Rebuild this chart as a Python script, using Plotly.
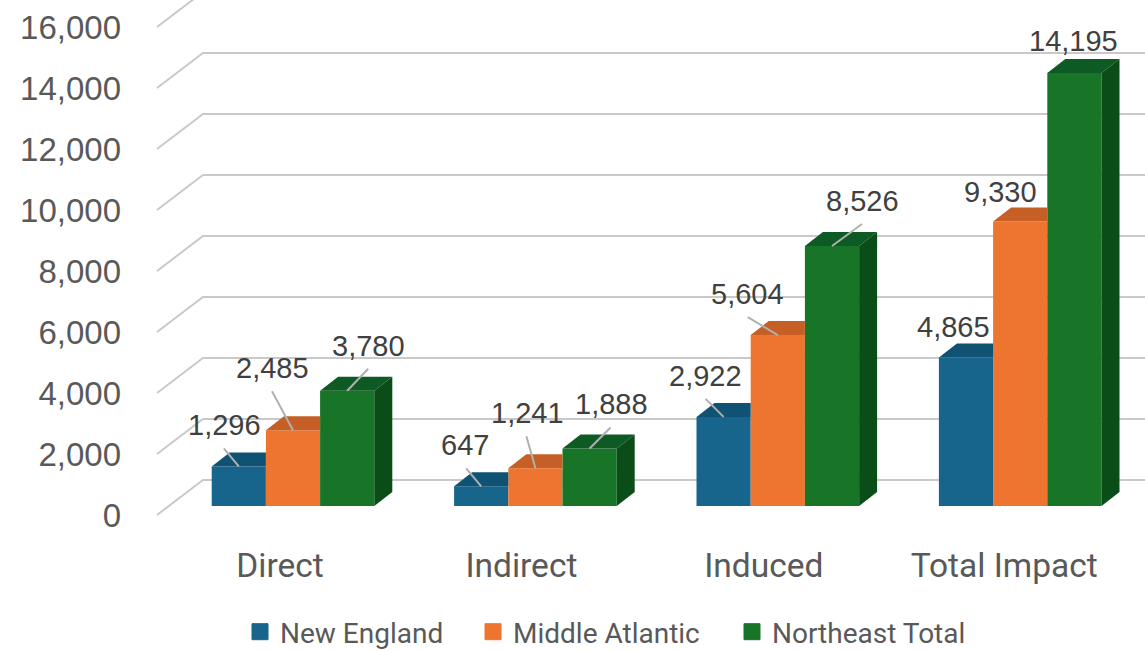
import plotly.graph_objects as go

# ---------- data ----------
categories = ["Direct", "Indirect", "Induced", "Total Impact"]
new_england = [1296, 647, 2922, 4865]
middle_atlantic = [2485, 1241, 5604, 9330]
northeast_total = [3780, 1888, 8526, 14195]
y_ticks = [0, 2000, 4000, 6000, 8000, 10000, 12000, 14000, 16000]

series_names = ["New England", "Middle Atlantic", "Northeast Total"]
series_values = [new_england, middle_atlantic, northeast_total]

# ---------- style / geometry ----------
W, H = 1145, 651
M_L, M_B = 150, 106
PLOT_H = H - M_B
ZERO_PX = 515            # pixel row of value 0 on the axis
PX_PER_UNIT = 61 / 2000
CAT0_PX = 280
PX_PER_CAT = 242.4
FRONT = ["#17658c", "#ee7530", "#187527"]
TOP = ["#0f5273", "#c55f26", "#0e5a24"]
SIDE = "#0b4d18"
TICK_COLOR = "#595959"
LABEL_COLOR = "#404040"
GRID = "#c9c9c9"
FONT = "Roboto"
LABEL_FONT = "Liberation Sans"

def dx(px):
    return px / PX_PER_CAT

def dy(px):
    return px / PX_PER_UNIT

WALL_DX, WALL_DY = 46, 35      # floor depth, px
BAR_DX, BAR_DY = 18, 14        # bar depth, px
BAR_W = 54.2                   # px
BAR_SHIFT = 13                 # group centre relative to tick, px
BASE = dy(9)                   # bars stand a little in from the front of the floor
LABEL_NUDGE_PX = [0, -1, -1, -3]   # fine placement of the category labels

x_min = (M_L - CAT0_PX) / PX_PER_CAT
x_max = (W - CAT0_PX) / PX_PER_CAT
y_max = ZERO_PX / PX_PER_UNIT
y_min = (ZERO_PX - PLOT_H) / PX_PER_UNIT

fig = go.Figure()

# front faces: real bars
for s, (name, vals) in enumerate(zip(series_names, series_values)):
    fig.add_trace(go.Bar(
        x=list(range(len(categories))), y=vals, base=BASE, name=name,
        width=dx(BAR_W), offset=dx(BAR_SHIFT + (s - 1.5) * BAR_W),
        marker=dict(color=FRONT[s], line=dict(width=0)),
        showlegend=False,
        hovertemplate=name + ": %{y:,}<extra>%{x}</extra>",
    ))

# top and side faces
for s, vals in enumerate(series_values):
    last = s == len(series_values) - 1
    for c, v in enumerate(vals):
        x0 = c + dx(BAR_SHIFT + (s - 1.5) * BAR_W)
        x1 = x0 + dx(BAR_W)
        yt = BASE + v
        back_right = x1 + dx(BAR_DX) if last else x1
        fig.add_trace(go.Scatter(
            x=[x0, x1, back_right, x0 + dx(BAR_DX), x0],
            y=[yt, yt, yt + dy(BAR_DY), yt + dy(BAR_DY), yt],
            mode="lines", fill="toself", fillcolor=TOP[s],
            line=dict(width=0, color=TOP[s]), showlegend=False, hoverinfo="skip",
        ))
        if last:
            fig.add_trace(go.Scatter(
                x=[x1, x1 + dx(BAR_DX), x1 + dx(BAR_DX), x1, x1],
                y=[BASE, BASE + dy(BAR_DY), yt + dy(BAR_DY), yt, BASE],
                mode="lines", fill="toself", fillcolor=SIDE,
                line=dict(width=0, color=SIDE), showlegend=False, hoverinfo="skip",
            ))

# legend entries, one legend per entry so each can sit where the reference has it
legend_ids = ["legend", "legend2", "legend3"]
legend_px = [240, 473, 732]
for s, name in enumerate(series_names):
    fig.add_trace(go.Scatter(
        x=[None], y=[None], mode="markers", name=name, legend=legend_ids[s],
        marker=dict(symbol="square", size=16, color=FRONT[s],
                    line=dict(width=1, color=FRONT[s])),
    ))

shapes = []
# wall gridlines, behind everything
fx = (157 - CAT0_PX) / PX_PER_CAT
for t in y_ticks:
    shapes.append(dict(
        type="path", xref="x", yref="y", layer="below",
        path=f"M{fx},{t} L{fx + dx(WALL_DX)},{t + dy(WALL_DY)} L{x_max},{t + dy(WALL_DY)}",
        line=dict(color=GRID, width=2),
    ))

# data labels: (text offset, leader start offset) from bar-top centre, px
label_text_off = {
    (0, 0): (-14, 41), (1, 0): (-21, 62), (2, 0): (21, 45),
    (0, 1): (-16, 41), (1, 1): (-8, 55), (2, 1): (22, 44),
    (0, 2): (-18, 41), (1, 2): (-30, 41), (2, 2): (30, 45),
    (0, 3): (-13, 31), (1, 3): (-20, 29), (2, 3): (-1, 32),
}
leader_off = {
    (0, 0): (-15, 18), (1, 0): (-21, 39), (2, 0): (21, 22),
    (0, 1): (-15, 18), (1, 1): (-9, 32), (2, 1): (21, 21),
    (0, 2): (-18, 18), (1, 2): (-30, 18), (2, 2): (30, 22),
}
annotations = []
for s, vals in enumerate(series_values):
    for c, v in enumerate(vals):
        xc = c + dx(BAR_SHIFT + (s - 1) * BAR_W)
        yc = BASE + v
        ox, oy = label_text_off[(s, c)]
        annotations.append(dict(
            x=xc, y=yc, xref="x", yref="y", text=f"{v:,}", showarrow=False,
            xshift=ox, yshift=oy, xanchor="center", yanchor="middle",
            font=dict(family=LABEL_FONT, size=29, color=LABEL_COLOR),
        ))
        if (s, c) in leader_off:
            lx, ly = leader_off[(s, c)]
            shapes.append(dict(
                type="line", layer="above", xref="x", yref="y",
                xsizemode="pixel", ysizemode="pixel", xanchor=xc, yanchor=yc,
                x0=0, y0=0, x1=lx, y1=ly, line=dict(color="#b0b0b0", width=2),
            ))

legend_common = dict(xanchor="left", yanchor="middle", y=(PLOT_H - 632) / PLOT_H,
                     orientation="h", bgcolor="rgba(0,0,0,0)",
                     font=dict(size=28, color=TICK_COLOR), itemclick=False)
legends = {lid: dict(legend_common, x=(px - M_L) / (W - M_L))
           for lid, px in zip(legend_ids, legend_px)}

fig.update_layout(
    width=W, height=H, barmode="overlay",
    margin=dict(l=M_L, r=0, t=0, b=M_B, pad=0, autoexpand=False),
    paper_bgcolor="white", plot_bgcolor="white",
    shapes=shapes, annotations=annotations,
    font=dict(family=FONT, color=TICK_COLOR),
    xaxis=dict(range=[x_min, x_max], tickmode="array",
               tickvals=[i + dx(n) for i, n in enumerate(LABEL_NUDGE_PX)],
               ticktext=categories, showgrid=False, zeroline=False, showline=False,
               ticks="", ticklabelstandoff=-3, automargin=False,
               tickfont=dict(size=33.5, color=TICK_COLOR)),
    yaxis=dict(range=[y_min, y_max], tickmode="array", tickvals=y_ticks,
               tickformat=",", showgrid=False, zeroline=False, showline=False,
               ticks="", ticklabelstandoff=28, automargin=False,
               tickfont=dict(family=LABEL_FONT, size=33, color=TICK_COLOR)),
    **legends,
)

fig.write_html("out.html", config={"displayModeBar": False},
               post_script="document.body.style.margin='0';")
